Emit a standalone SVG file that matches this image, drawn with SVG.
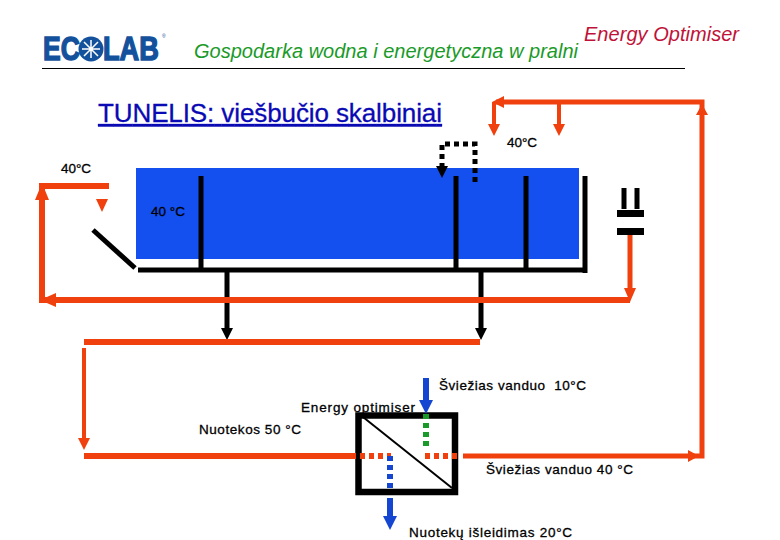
<svg xmlns="http://www.w3.org/2000/svg" width="780" height="540" viewBox="0 0 780 540">
<style>
text{font-family:"Liberation Sans",Arial,sans-serif}
.l{font-size:13.500px;fill:#000;stroke:#000;stroke-width:.3}
.logo{font-size:34px;font-weight:bold;fill:#14519c;stroke:#14519c;stroke-width:1.500}
.o{fill:none;stroke:#f0400e;stroke-width:6}
.o4{fill:none;stroke:#f0400e;stroke-width:4}
.od{fill:none;stroke:#f0400e;stroke-width:6;stroke-dasharray:5 4}
.of{fill:#f0400e}
.k{fill:none;stroke:#000;stroke-width:5}
.kd{fill:none;stroke:#000;stroke-width:5;stroke-dasharray:5 4}
.kf{fill:#000}
.bl{fill:none;stroke:#1446d2;stroke-width:6}
.bd{fill:none;stroke:#1446d2;stroke-width:6;stroke-dasharray:5 4}
.blf{fill:#1446d2}
.gd{fill:none;stroke:#1a9a28;stroke-width:6;stroke-dasharray:5 4}
</style>
<g id="header">
<text class="logo" transform="translate(43 60) scale(.78 1)">EC</text>
<circle cx="91" cy="49" r="12.500" fill="#14519c"/>
<path d="M84 42L98 56M98 42L84 56M91 40V58M82 49H100" stroke="#fff" stroke-width="1.500" fill="none"/>
<text class="logo" transform="translate(103 60) scale(.8 1)">LAB</text>
<text x="162" y="38" font-size="5" fill="#14519c">®</text>
<text x="194" y="58" font-size="20" font-style="italic" fill="#1a9a28" textLength="384">Gospodarka wodna i energetyczna w pralni</text>
<text x="584" y="41" font-size="20" font-style="italic" fill="#c01238" textLength="155">Energy Optimiser</text>
<rect x="42" y="68" width="643" height="1" fill="#000"/>
<text x="98" y="122" font-size="26" fill="#0a0ab4" stroke="#0a0ab4" stroke-width=".3" text-decoration="underline" textLength="344">TUNELIS: viešbučio skalbiniai</text>
</g>
<g id="tunnel">
<rect x="136" y="168" width="443" height="91" fill="#1450f0"/>
</g>
<g id="optimiser">
<rect x="358.500" y="415.500" width="96.500" height="76.500" fill="none" stroke="#000" stroke-width="6.500"/>
<path d="M363 417L452 488" stroke="#000" stroke-width="2" fill="none"/>
</g>
<g id="labels">
<text class="l" x="61" y="173" textLength="30">40°C</text>
<text class="l" x="151" y="216" textLength="34">40 °C</text>
<text class="l" x="507" y="147" textLength="30">40°C</text>
<text class="l" x="439" y="390" textLength="147" xml:space="preserve">Šviežias vanduo  10°C</text>
<text class="l" x="301" y="412" textLength="114">Energy optimiser</text>
<text class="l" x="199" y="434" textLength="102">Nuotekos 50 °C</text>
<text class="l" x="486" y="474" textLength="147">Šviežias vanduo 40 °C</text>
<text class="l" x="409" y="537" textLength="163">Nuotekų išleidimas 20°C</text>
</g>
<g id="connectors">
<path class="k" d="M138 270H583M585 176V273M201 176V270M456 176V270M526 176V270"/>
<path class="k" d="M93 230L135 268"/>
<path class="k" d="M624 188V209M637 188V209"/>
<path d="M617 213.500H644M617 231.500H644" fill="none" stroke="#000" stroke-width="7"/>
<path class="k" d="M227 272V330M481 272V330"/>
<path class="kf" d="M221 328H233L227 340ZM475 328H487L481 340Z"/>
<path class="kd" d="M442 168V144H475V184"/>
<path class="kf" d="M436 166H448L442 178Z"/>
<path class="o" d="M109 186H42V300H630"/>
<path class="o" d="M630 235V290" style="stroke-width:5"/>
<path class="of" d="M35 200L42 183L49 200ZM40 300L56 293V307ZM624 288H636L630 302Z"/>
<path class="of" d="M96 199H108L102 212Z"/>
<path class="o" d="M496 102H702V456H463" style="stroke-width:5"/>
<path class="of" d="M492 102L504 96V108ZM696 115L702 104L708 115ZM699 456L688 450V462Z"/>
<path class="o4" d="M494 102V126M559 102V126"/>
<path class="of" d="M488 124H500L494 136ZM553 124H565L559 136Z"/>
<path class="o" d="M84 342H480"/>
<path class="o4" d="M84 348V440"/>
<path class="of" d="M78 438H90L84 450Z"/>
<path class="o" d="M84 456H356"/>
<path class="od" d="M360 456H391"/>
<path class="od" d="M425 456H458"/>
<path class="bl" d="M426 378V402"/>
<path class="blf" d="M419 400H433L426 414Z"/>
<path class="gd" d="M426 414V446"/>
<path class="bd" d="M390 456V488"/>
<path class="bl" d="M390 498V518"/>
<path class="blf" d="M383 516H397L390 530Z"/>
</g>
</svg>
